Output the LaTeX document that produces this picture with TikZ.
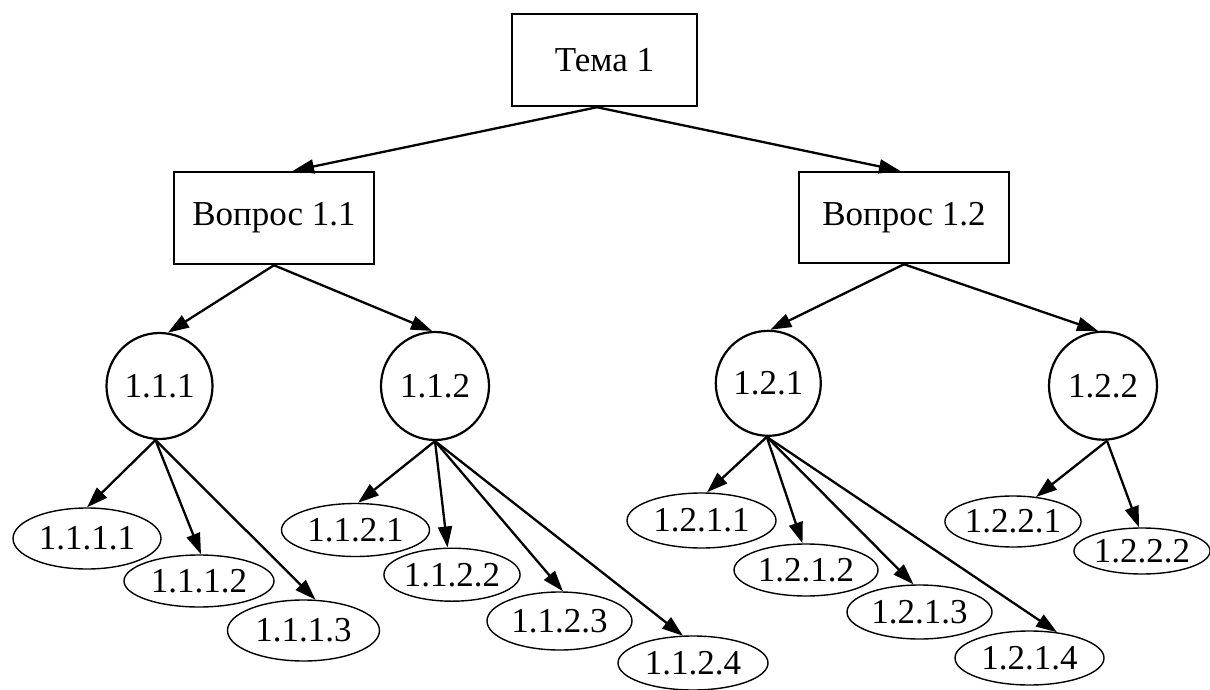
\documentclass[tikz,border=0pt]{standalone}
\usepackage{fontspec}
\setmainfont{Liberation Serif}
\usetikzlibrary{arrows.meta,shapes.geometric,calc}
\begin{document}
\begin{tikzpicture}[x=1pt,y=-1pt,
  font=\fontsize{35}{42}\selectfont,
  boxnode/.style={draw,line width=2.5pt,rectangle,inner sep=0pt},
  circnode/.style={draw,line width=2.2pt,circle,inner sep=0pt},
  ellnode/.style={draw,line width=1.4pt,ellipse,inner sep=0pt},
  edge/.style={line width=2.3pt,-{Triangle[length=21pt,width=14pt]}}]
\useasboundingbox (0,0) rectangle (1210,690);
% top level
\node[boxnode,minimum width=185pt,minimum height=92pt] (T) at (604.5,60) {Тема 1};
\node[boxnode,minimum width=200pt,minimum height=92pt] (V11) at (274,218) {Вопрос 1.1};
\node[boxnode,minimum width=210pt,minimum height=91pt] (V12) at (904,217.5) {Вопрос 1.2};
% circles
\node[circnode,minimum size=106pt] (c111) at (159.5,386) {1.1.1};
\node[circnode,minimum size=108pt] (c112) at (435,386) {1.1.2};
\node[circnode,minimum size=105pt] (c121) at (768.3,383.3) {1.2.1};
\node[circnode,minimum size=108pt] (c122) at (1103,385.7) {1.2.2};
% ellipses
\node[ellnode,minimum width=148pt,minimum height=61pt] (e1111) at (87,538.5) {1.1.1.1};
\node[ellnode,minimum width=150pt,minimum height=52pt] (e1112) at (199,581) {1.1.1.2};
\node[ellnode,minimum width=152pt,minimum height=61pt] (e1113) at (303.5,630.5) {1.1.1.3};
\node[ellnode,minimum width=148pt,minimum height=53pt] (e1121) at (355.5,530) {1.1.2.1};
\node[ellnode,minimum width=130pt,minimum height=53pt] (e1122) at (452,574.7) {1.1.2.2};
\node[ellnode,minimum width=145pt,minimum height=58pt] (e1123) at (559.5,621) {1.1.2.3};
\node[ellnode,minimum width=150pt,minimum height=54pt] (e1124) at (693,663) {1.1.2.4};
\node[ellnode,minimum width=149pt,minimum height=55pt] (e1211) at (701.5,520.5) {1.2.1.1};
\node[ellnode,minimum width=144pt,minimum height=52pt] (e1212) at (806,570) {1.2.1.2};
\node[ellnode,minimum width=145pt,minimum height=54pt] (e1213) at (919.5,612) {1.2.1.3};
\node[ellnode,minimum width=149pt,minimum height=54pt] (e1214) at (1029.5,658) {1.2.1.4};
\node[ellnode,minimum width=126pt,minimum height=51pt] (e1221) at (1013,521.5) {1.2.2.1};
\node[ellnode,minimum width=136pt,minimum height=46pt] (e1222) at (1142,551) {1.2.2.2};
% edges level 1
\draw[edge] ($(T.south)+(-7.5,0)$) -- ($(V11.north)+(19,0)$);
\draw[edge] ($(T.south)+(-7.5,0)$) -- ($(V12.north)+(-4,0)$);
% edges level 2
\draw[edge] (V11.south) -- ($(c111.north)+(8.5,0.7)$);
\draw[edge] (V11.south) -- ($(c112.north)+(-3,0)$);
\draw[edge] (V12.south) -- ($(c121.north)+(2,0)$);
\draw[edge] (V12.south) -- ($(c122.north)+(-5,0.3)$);
% edges level 3
\draw[edge] ($(c111.south)+(-4,0)$) -- (e1111.north);
\draw[edge] ($(c111.south)+(-4,0)$) -- ($(e1112.north)+(2,0)$);
\draw[edge] ($(c111.south)+(-4,0)$) -- ($(e1113.north)+(12,0.4)$);
\draw[edge] (c112.south) -- ($(e1121.north)+(2.5,0)$);
\draw[edge] (c112.south) -- ($(e1122.north)+(-4.5,0)$);
\draw[edge] (c112.south) -- ($(e1123.north)+(3.5,0)$);
\draw[edge] (c112.south) -- ($(e1124.north)+(-10,0.5)$);
\draw[edge] ($(c121.south)+(-1.5,0)$) -- ($(e1211.north)+(5.5,0)$);
\draw[edge] ($(c121.south)+(-1.5,0)$) -- ($(e1212.north)+(-3.5,0)$);
\draw[edge] ($(c121.south)+(-1.5,0)$) -- ($(e1213.north)+(-6,0)$);
\draw[edge] ($(c121.south)+(-1.5,0)$) -- ($(e1214.north)+(27.5,1.9)$);
\draw[edge] ($(c122.south)+(4,0)$) -- ($(e1221.north)+(23,1.7)$);
\draw[edge] ($(c122.south)+(4,0)$) -- ($(e1222.north)+(-3,0)$);
\end{tikzpicture}
\end{document}
